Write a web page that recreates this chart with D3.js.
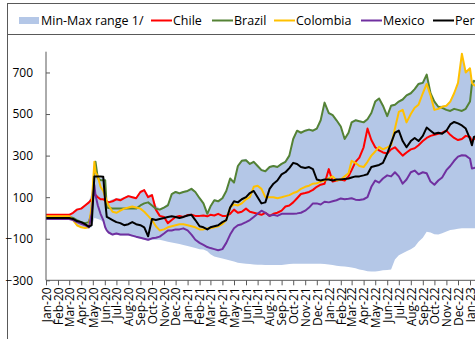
<!DOCTYPE html>
<html>
<head>
<meta charset="utf-8">
<script src="https://cdn.jsdelivr.net/npm/d3@7"></script>
<style>
  body { margin: 0; background: #fff; }
  svg { display: block; }
  text { font-family: "Segoe UI", "Open Sans", "Noto Sans", sans-serif; fill: #000; }
</style>
</head>
<body>
<svg id="chart" width="475" height="339"></svg>
<script>
// Observation dates (roughly every ten days, denser around the May 2020 spike)
const dates = [
  "2020-01-01","2020-01-11","2020-01-21","2020-02-01","2020-02-11","2020-02-21",
  "2020-03-01","2020-03-11","2020-03-21","2020-04-01","2020-04-11","2020-04-21",
  "2020-04-28","2020-05-05","2020-05-08","2020-05-14","2020-05-21","2020-05-28",
  "2020-06-02","2020-06-06","2020-06-11","2020-06-21","2020-07-01","2020-07-11",
  "2020-07-21","2020-08-01","2020-08-11","2020-08-21","2020-09-01","2020-09-11",
  "2020-09-21","2020-10-01","2020-10-11","2020-10-21","2020-11-01","2020-11-11",
  "2020-11-21","2020-12-01","2020-12-11","2020-12-21","2021-01-01","2021-01-11",
  "2021-01-21","2021-02-01","2021-02-11","2021-02-21","2021-03-01","2021-03-11",
  "2021-03-21","2021-04-01","2021-04-11","2021-04-21","2021-05-01","2021-05-11",
  "2021-05-21","2021-06-01","2021-06-11","2021-06-21","2021-07-01","2021-07-11",
  "2021-07-21","2021-08-01","2021-08-11","2021-08-21","2021-09-01","2021-09-11",
  "2021-09-21","2021-10-01","2021-10-11","2021-10-21","2021-11-01","2021-11-11",
  "2021-11-21","2021-12-01","2021-12-11","2021-12-21","2022-01-01","2022-01-11",
  "2022-01-21","2022-02-01","2022-02-11","2022-02-21","2022-03-01","2022-03-11",
  "2022-03-21","2022-04-01","2022-04-11","2022-04-21","2022-05-01","2022-05-11",
  "2022-05-21","2022-06-01","2022-06-11","2022-06-21","2022-07-01","2022-07-11",
  "2022-07-21","2022-08-01","2022-08-11","2022-08-21","2022-09-01","2022-09-11",
  "2022-09-21","2022-10-01","2022-10-11","2022-10-21","2022-11-01","2022-11-11",
  "2022-11-21","2022-12-01","2022-12-11","2022-12-21","2023-01-01","2023-01-06",
  "2023-01-11","2023-01-21"
];

const chile = [
  15,15,15,15,15,15, 15,25,40,45,60,75, 90,120,110,100,90,90,
  85,80,75,80,90,85, 95,105,100,95,125,134, 100,110,40,10,5,-25,
  -10,5,10,5,14,15, 10,10,12,8,15,12, 20,10,10,20,40,25,
  30,45,30,25,20,15, 25,10,20,25,35,55, 60,75,95,115,120,125,
  135,150,160,165,235,175, 180,185,180,200,230,270, 290,340,430,375,340,325,
  315,310,330,340,320,300, 315,330,335,350,370,385, 395,400,405,410,420,400,
  385,375,380,395,390,370, 380,385
];
const brazil = [
  5,5,5,5,5,5, 5,0,-10,-20,-25,-20, 30,230,270,190,182,182,
  182,50,48,45,45,45, 45,45,45,45,60,70, 75,60,45,40,50,60,
  115,125,118,125,130,140, 125,95,70,20,55,85, 80,95,130,190,170,250,
  275,278,260,270,250,230, 225,245,250,245,260,270, 300,380,420,410,420,425,
  420,430,470,555,505,495, 470,440,380,410,460,470, 465,460,475,505,560,575,
  540,490,540,545,560,570, 590,600,620,645,650,690, 600,560,535,530,520,515,
  525,520,515,525,560,646, 660,650
];
const colombia = [
  8,8,8,8,8,8, 8,-10,-35,-45,-48,-45, 60,270,220,200,150,130,
  100,80,60,30,25,35, 45,50,55,50,45,30, 10,-10,-40,-60,-55,-45,
  -40,-35,-30,-30,-35,-40, -45,-55,-55,-50,-50,-45, -40,-30,-10,50,65,60,
  70,90,100,150,155,140, 100,100,100,95,100,105, 110,120,126,140,150,155,
  165,167,175,180,190,200, 180,185,200,215,275,265, 250,245,270,300,320,342,
  330,340,350,430,510,520, 460,500,530,545,600,645, 590,520,525,535,540,560,
  600,650,790,700,720,650, 640,630
];
const mexico = [
  -5,-5,-5,-5,-5,-5, -5,-10,-20,-28,-35,-45, 20,158,110,60,20,-10,
  -45,-60,-70,-80,-75,-80, -80,-80,-85,-90,-95,-100, -105,-98,-95,-90,-75,-60,
  -60,-55,-55,-50,-60,-80, -105,-120,-130,-140,-145,-150, -155,-150,-120,-80,-50,-35,
  -30,-20,-10,5,20,35, 25,10,15,10,20,20, 20,20,22,25,35,50,
  70,70,65,78,75,80, 85,94,90,92,95,88, 86,90,100,150,180,170,
  190,205,200,220,200,165, 185,220,228,210,220,215, 175,160,180,195,230,250,
  275,295,302,300,285,238, 240,245
];
const peru = [
  0,0,0,0,0,0, 0,-5,-15,-20,-30,-42, -35,200,200,200,200,198,
  80,5,0,-10,-20,-25, -35,-30,-20,-30,-35,-45, -88,-5,-10,-5,0,5,
  8,5,0,5,12,15, -10,-40,-45,-55,-45,-40, -35,-20,-10,50,80,75,
  90,100,120,130,100,70, 75,140,165,180,210,220, 240,265,260,245,240,245,
  235,185,180,185,185,180, 185,185,188,190,195,200, 200,205,210,245,250,255,
  265,310,360,410,420,370, 340,370,385,370,395,435, 420,405,410,405,420,450,
  462,455,445,430,380,350, 390,395
];
// Lower and upper edges of the min-max range across the country sample
const rangeMin = [
  -6,-6,-6,-6,-6,-6, -6,-15,-40,-46,-50,-50, -45,0,-2,-5,-10,-20,
  -50,-65,-75,-85,-80,-85, -85,-85,-90,-95,-100,-105, -110,-105,-105,-105,-110,-115,
  -118,-122,-125,-130,-135,-140, -145,-150,-152,-160,-175,-185, -190,-195,-200,-205,-210,-215,
  -218,-220,-222,-224,-225,-225, -226,-226,-226,-226,-226,-224, -222,-220,-220,-220,-220,-220,
  -220,-220,-220,-222,-224,-226, -230,-232,-234,-236,-238,-242, -248,-252,-256,-258,-258,-255,
  -252,-250,-248,-200,-180,-170, -160,-150,-138,-115,-95,-66, -70,-78,-80,-74,-65,-58,
  -55,-52,-50,-50,-50,-50, -50,-50
];
const rangeMax = [
  15,15,15,15,15,15, 16,28,45,50,65,80, 120,272,272,205,190,200,
  185,85,80,90,95,95, 100,110,105,100,130,138, 110,115,60,45,55,70,
  120,130,125,130,135,145, 130,100,75,30,60,90, 85,100,135,195,175,255,
  280,285,265,275,255,235, 230,250,255,250,265,275, 305,385,425,415,425,430,
  425,435,475,560,510,500, 475,445,385,415,465,475, 470,465,480,510,565,580,
  545,495,545,550,565,575, 595,605,625,650,655,695, 605,565,540,540,545,565,
  605,655,795,705,725,660, 665,655
];

const yTicks = [-300, -100, 100, 300, 500, 700];
const seriesNames = ["Chile", "Brazil", "Colombia", "Mexico", "Peru"];
const seriesColors = ["#FF0000", "#548235", "#FFC000", "#7030A0", "#000000"];
const bandLabel = "Min-Max range 1/";
const bandColor = "#B4C7E7";

const parse = d3.utcParse("%Y-%m-%d");
const when = dates.map(parse);
const seriesValues = [chile, brazil, colombia, mexico, peru];

const svg = d3.select("#chart");

// frame around legend and plot
const frame = svg.append("g").attr("stroke", "#595959").attr("stroke-width", 1);
frame.append("line").attr("x1", 7.5).attr("x2", 7.5).attr("y1", 3).attr("y2", 339);
frame.append("line").attr("x1", 7).attr("x2", 475).attr("y1", 3.5).attr("y2", 3.5);
frame.append("line").attr("x1", 7).attr("x2", 475).attr("y1", 34.5).attr("y2", 34.5);

const plotLeft = 46, plotTop = 51.7, plotBottom = 280.3;

const x = d3.scaleUtc()
  .domain([parse("2020-01-01"), parse("2023-01-01")])
  .range([plotLeft, 470]);
const y = d3.scaleLinear().domain([-300, 800]).range([plotBottom, plotTop]);

svg.append("clipPath").attr("id", "plotClip")
  .append("rect").attr("x", plotLeft).attr("y", plotTop - 2)
  .attr("width", 475 - plotLeft).attr("height", plotBottom - plotTop + 2);

const plot = svg.append("g").attr("clip-path", "url(#plotClip)");

// shaded min-max band
const band = d3.area()
  .x((d, i) => x(when[i]))
  .y0((d, i) => y(rangeMin[i]))
  .y1((d, i) => y(rangeMax[i]));
plot.append("path").datum(dates).attr("d", band).attr("fill", bandColor);

// country lines
seriesValues.forEach((vals, k) => {
  const line = d3.line().x((d, i) => x(when[i])).y(d => y(d));
  plot.append("path").datum(vals)
    .attr("d", line)
    .attr("fill", "none")
    .attr("stroke", seriesColors[k])
    .attr("stroke-width", 2)
    .attr("stroke-linejoin", "round");
});

// y axis
const yAxis = svg.append("g")
  .attr("transform", `translate(${plotLeft},0)`)
  .call(d3.axisLeft(y).tickValues(yTicks).tickSize(-4).tickPadding(13).tickFormat(d3.format("d")));
yAxis.select(".domain").attr("stroke", "#595959").attr("d", `M0,${plotTop}V${plotBottom}`);
yAxis.selectAll(".tick line").attr("stroke", "#595959");
yAxis.selectAll(".tick text").attr("font-size", 12).attr("fill", "#000");

// x axis with monthly ticks
const months = d3.utcMonth.range(parse("2020-01-01"), parse("2023-02-01"));
const xAxis = svg.append("g")
  .attr("transform", `translate(0,${plotBottom})`)
  .call(d3.axisBottom(x).tickValues(months).tickSize(5).tickFormat(d3.utcFormat("%b-%y")));
xAxis.select(".domain").attr("stroke", "#595959").attr("d", `M${plotLeft},0H475`);
xAxis.selectAll(".tick line").attr("stroke", "#595959");
xAxis.selectAll(".tick text")
  .attr("font-size", 12)
  .attr("fill", "#000")
  .attr("transform", "rotate(-90)")
  .attr("text-anchor", "end")
  .attr("x", -7)
  .attr("y", 0)
  .attr("dy", "0.36em");

// legend
const legend = svg.append("g").attr("font-size", 12.5);
legend.append("rect").attr("x", 19).attr("y", 17).attr("width", 20).attr("height", 7).attr("fill", bandColor);
legend.append("text").attr("x", 41).attr("y", 25).text(bandLabel);
const legendX = [151, 212, 274, 361, 433];
seriesNames.forEach((name, k) => {
  legend.append("line")
    .attr("x1", legendX[k]).attr("x2", legendX[k] + 21)
    .attr("y1", 20.5).attr("y2", 20.5)
    .attr("stroke", seriesColors[k]).attr("stroke-width", 2);
  legend.append("text").attr("x", legendX[k] + 22).attr("y", 25).text(name);
});
</script>
</body>
</html>
